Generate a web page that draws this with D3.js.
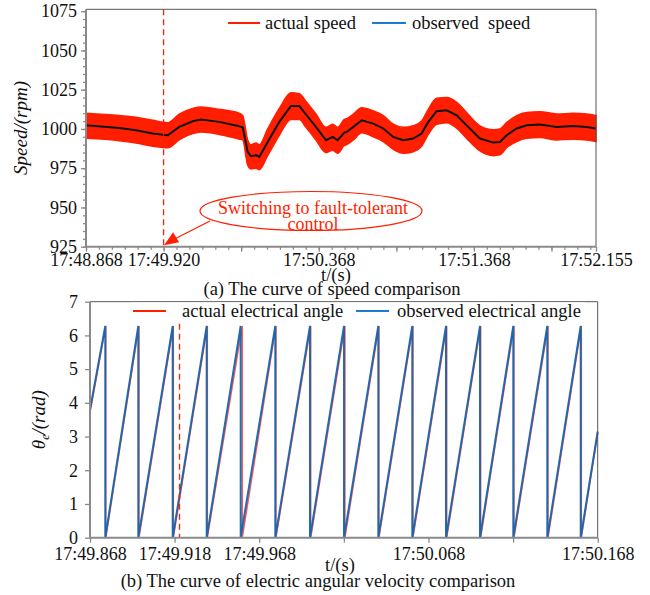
<!DOCTYPE html>
<html>
<head>
<meta charset="UTF-8">
<title>speed and angle comparison</title>
<script src="https://d3js.org/d3.v7.min.js"></script>
<style>
  body { margin: 0; background: #fff; }
  svg text { font-family: "Liberation Serif", "Times New Roman", serif; fill: #111; }
  .axis path { display: none; }
  .axis line { stroke: #8a8a8a; stroke-width: 1.3px; }
  .axis text { font-size: 18px; fill: #111; }
</style>
</head>
<body>
<script>
// ---- top chart data: speed (rpm) vs time offset (s) from 17:48.868
var speedTime = [0, 0.215, 0.322, 0.430, 0.527, 0.601, 0.688, 0.741, 0.859, 0.988, 1.010, 1.042, 1.063, 1.096, 1.117,
  1.171, 1.246, 1.321, 1.375, 1.418, 1.482, 1.547, 1.590, 1.622, 1.665, 1.680, 1.723, 1.777, 1.852, 1.916, 1.980,
  2.045, 2.109, 2.163, 2.206, 2.260, 2.325, 2.389, 2.453, 2.539, 2.625, 2.668, 2.711, 2.776, 2.840, 2.926, 3.033,
  3.140, 3.227, 3.287];
var observedSpeed = [1002.4, 1000.6, 999.2, 997.1, 996.0, 1001.3, 1004.9, 1006.0, 1004.5, 1001.7, 1001.0, 985.4, 982.6, 983.3, 982.2,
  991.7, 1004.5, 1014.6, 1014.6, 1009.2, 1001.3, 992.8, 994.9, 992.8, 997.7, 998.1, 1001.3, 1005.5, 1003.4, 1000.3, 994.9,
  992.8, 993.9, 997.1, 1004.5, 1011.3, 1011.9, 1008.7, 1002.3, 993.9, 991.3, 991.7, 996.0, 1000.3, 1002.3, 1002.8, 1001.3,
  1001.9, 1001.3, 1000.3];
var actualHigh = [1010, 1008.5, 1007.5, 1005.5, 1004, 1009.5, 1013, 1014, 1012.5, 1010, 1008.5, 993, 990, 991, 990,
  1000, 1013, 1023, 1022.5, 1017.5, 1009.5, 1001, 1003, 1001, 1006, 1006.5, 1009.5, 1013.5, 1011.5, 1008.5, 1003,
  1001, 1002, 1005, 1012.5, 1019.5, 1020, 1017, 1010.5, 1002, 999.5, 1000, 1004, 1008.5, 1010.5, 1011, 1009.5,
  1010, 1009.5, 1008.5];
var actualLow = [994, 992.5, 991, 989, 988, 993, 997, 998, 996.5, 993.5, 993, 977, 974.5, 975, 974,
  983, 996, 1006, 1006, 1001, 993, 985, 986.5, 984.5, 989.5, 990, 993, 997.5, 995, 992, 987,
  984.5, 985.5, 989, 996.5, 1003, 1004, 1000.5, 994, 986, 983, 983.5, 988, 992, 994, 994.5, 993,
  993.5, 993, 992];
var speedTicks = [925, 950, 975, 1000, 1025, 1050, 1075];
var timeTicksA = [0, 0.5, 1.5, 2.5, 3.287];
var timeLabelsA = ["17:48.868", "17:49.920", "17:50.368", "17:51.368", "17:52.155"];
var switchTimeA = 0.5;

// ---- bottom chart data: electrical angle (rad) vs time offset (s) from 17:49.868
var observedWrapTimes = [0.00904, 0.02854, 0.04887, 0.06896, 0.08905, 0.10950, 0.13000, 0.15009,
  0.17036, 0.19045, 0.21037, 0.23046, 0.25013, 0.27022, 0.28996];
var actualWrapTimes = [0.00930, 0.02890, 0.04920, 0.06930, 0.08995, 0.10985, 0.13040, 0.15060,
  0.17070, 0.19080, 0.21075, 0.23080, 0.25050, 0.27060, 0.29030];
var angleStart = [3.80, 3.72];   // observed, actual at t = 0
var angleEnd = [3.15, 3.12];     // observed, actual at t = 0.3
var angleTicks = [0, 1, 2, 3, 4, 5, 6, 7];
var timeTicksB = [0, 0.05, 0.1, 0.15, 0.2, 0.25, 0.3];
var timeLabelsB = ["17:49.868", "17:49.918", "17:49.968", "", "17:50.068", "", "17:50.168"];
var switchTimeB = 0.0529;

var W = 650, H = 595;
var RED = "#ff1e00", BLUE = "#1765ad";

var svg = d3.select("body").append("svg").attr("width", W).attr("height", H);

// ================= chart (a) =================
var a = { l: 86, r: 596, t: 9.3, b: 246.7 };
var xa = d3.scaleLinear().domain([0, 3.287]).range([a.l, a.r]);
var ya = d3.scaleLinear().domain([925, 1076.2]).range([a.b, a.t]);

var gA = svg.append("g");

var speedRows = speedTime.map(function(t, i) {
  return { t: t, obs: observedSpeed[i], hi: actualHigh[i], lo: actualLow[i] };
});

gA.append("path")
  .datum(speedRows)
  .attr("fill", RED)
  .attr("stroke", RED)
  .attr("stroke-width", 1.5)
  .attr("d", d3.area().curve(d3.curveMonotoneX)
    .x(d => xa(d.t)).y0(d => ya(d.lo)).y1(d => ya(d.hi)));

gA.append("path")
  .datum(speedRows)
  .attr("fill", "none")
  .attr("stroke", "#111")
  .attr("stroke-width", 2)
  .attr("d", d3.line().x(d => xa(d.t)).y(d => ya(d.obs)));

// dashed switching line
gA.append("line")
  .attr("x1", xa(switchTimeA)).attr("x2", xa(switchTimeA))
  .attr("y1", a.t).attr("y2", a.b)
  .attr("stroke", RED).attr("stroke-width", 1.3).attr("stroke-dasharray", "6,4");

// frame
gA.append("path")
  .attr("d", "M" + a.l + "," + a.t + "H" + a.r + "V" + a.b)
  .attr("fill", "none").attr("stroke", "#555").attr("stroke-width", 1);

// axes: minor then major
var minorY = d3.range(925, 1076, 5);
gA.append("g").attr("class", "axis").attr("transform", "translate(" + a.l + ",0)")
  .call(d3.axisLeft(ya).tickValues(minorY).tickSize(3).tickFormat(""));
gA.append("g").attr("class", "axis").attr("transform", "translate(" + a.l + ",0)")
  .call(d3.axisLeft(ya).tickValues(speedTicks).tickSize(5).tickPadding(4).tickFormat(d3.format("d")));

var minorX = d3.range(0, 3.287, 0.5 / 6);
gA.append("g").attr("class", "axis").attr("transform", "translate(0," + a.b + ")")
  .call(d3.axisBottom(xa).tickValues(minorX).tickSize(3).tickFormat(""));
gA.append("g").attr("class", "axis").attr("transform", "translate(0," + a.b + ")")
  .call(d3.axisBottom(xa).tickValues(d3.range(0, 3.2, 0.5).concat([3.287])).tickSize(5).tickFormat(""));
gA.append("g").attr("class", "axis").attr("transform", "translate(0," + a.b + ")")
  .call(d3.axisBottom(xa).tickValues(timeTicksA).tickSize(0).tickPadding(7)
    .tickFormat((d, i) => timeLabelsA[i]));

gA.append("line").attr("x1", a.l).attr("x2", a.l).attr("y1", a.t).attr("y2", a.b)
  .attr("stroke", "#8a8a8a").attr("stroke-width", 2);
gA.append("line").attr("x1", a.l).attr("x2", a.r).attr("y1", a.b).attr("y2", a.b)
  .attr("stroke", "#8a8a8a").attr("stroke-width", 2);

// legend (a)
var legA = gA.append("g");
legA.append("line").attr("x1", 228).attr("x2", 260).attr("y1", 23).attr("y2", 23)
  .attr("stroke", RED).attr("stroke-width", 2);
legA.append("text").attr("x", 265).attr("y", 29).attr("font-size", 18.5).text("actual speed");
legA.append("line").attr("x1", 372).attr("x2", 406).attr("y1", 23).attr("y2", 23)
  .attr("stroke", "#1a7bd0").attr("stroke-width", 2);
legA.append("text").attr("x", 412).attr("y", 29).attr("font-size", 18.5)
  .style("white-space", "pre").text("observed  speed");

// annotation
gA.append("ellipse").attr("cx", 311).attr("cy", 211).attr("rx", 111).attr("ry", 19.5)
  .attr("fill", "#fff").attr("stroke", RED).attr("stroke-width", 1.2);
gA.append("text").attr("x", 313).attr("y", 214).attr("text-anchor", "middle")
  .attr("font-size", 18).style("fill", RED).text("Switching to fault-tolerant");
gA.append("text").attr("x", 313).attr("y", 230).attr("text-anchor", "middle")
  .attr("font-size", 18).style("fill", RED).text("control");
var tip = [xa(switchTimeA) + 0.5, a.b - 1.5];
gA.append("line").attr("x1", 210).attr("y1", 221).attr("x2", tip[0] + 10).attr("y2", tip[1] - 6)
  .attr("stroke", RED).attr("stroke-width", 1.2);
gA.append("path")
  .attr("d", "M" + tip[0] + "," + tip[1] + "L" + (tip[0] + 9) + "," + (tip[1] - 13) +
    "L" + (tip[0] + 15) + "," + (tip[1] - 3) + "Z")
  .attr("fill", RED);

// labels (a)
svg.append("text").attr("transform", "translate(27," + ((a.t + a.b) / 2) + ") rotate(-90)")
  .attr("text-anchor", "middle").attr("font-size", 19).attr("font-style", "italic")
  .text("Speed/(rpm)");
svg.append("text").attr("x", 336).attr("y", 281).attr("text-anchor", "middle")
  .attr("font-size", 18.5).text("t/(s)");
svg.append("text").attr("x", 332).attr("y", 295).attr("text-anchor", "middle")
  .attr("font-size", 18.5).text("(a) The curve of speed comparison");

// ================= chart (b) =================
var b = { l: 90, r: 597.7, t: 301.7, b: 537.7 };
var xb = d3.scaleLinear().domain([0, 0.3]).range([b.l, b.r]);
var yb = d3.scaleLinear().domain([0, 7]).range([b.b, b.t]);
var TWO_PI = 6.28;

function sawPoints(wraps, start, end) {
  var pts = [[0, start]];
  wraps.forEach(function(t) { pts.push([t, TWO_PI]); pts.push([t, 0]); });
  pts.push([0.3, end]);
  return pts;
}

var gB = svg.append("g");
var lineB = d3.line().x(d => xb(d[0])).y(d => yb(d[1]));

gB.append("path").datum(sawPoints(actualWrapTimes, angleStart[1], angleEnd[1]))
  .attr("fill", "none").attr("stroke", "#ff5a5a").attr("stroke-width", 1.6).attr("d", lineB);
gB.append("path").datum(sawPoints(observedWrapTimes, angleStart[0], angleEnd[0]))
  .attr("fill", "none").attr("stroke", BLUE).attr("stroke-width", 2).attr("stroke-opacity", 0.95)
  .attr("d", lineB);

gB.append("line")
  .attr("x1", xb(switchTimeB)).attr("x2", xb(switchTimeB))
  .attr("y1", b.t + 2).attr("y2", b.b)
  .attr("stroke", RED).attr("stroke-width", 1.3).attr("stroke-dasharray", "6,4");

gB.append("path")
  .attr("d", "M" + b.l + "," + b.t + "H" + b.r + "V" + b.b)
  .attr("fill", "none").attr("stroke", "#555").attr("stroke-width", 1);

gB.append("g").attr("class", "axis").attr("transform", "translate(" + b.l + ",0)")
  .call(d3.axisLeft(yb).tickValues(angleTicks).tickSize(5).tickPadding(7).tickFormat(d3.format("d")));
gB.append("g").attr("class", "axis").attr("transform", "translate(0," + b.b + ")")
  .call(d3.axisBottom(xb).tickValues(timeTicksB).tickSize(5).tickPadding(5)
    .tickFormat((d, i) => timeLabelsB[i]));

gB.append("line").attr("x1", b.l).attr("x2", b.l).attr("y1", b.t).attr("y2", b.b)
  .attr("stroke", "#8a8a8a").attr("stroke-width", 2);
gB.append("line").attr("x1", b.l).attr("x2", b.r).attr("y1", b.b).attr("y2", b.b)
  .attr("stroke", "#8a8a8a").attr("stroke-width", 2);

// legend (b)
var legB = gB.append("g");
legB.append("rect").attr("x", 130).attr("y", 302.5).attr("width", 455).attr("height", 18).attr("fill", "#fff");
legB.append("line").attr("x1", 133).attr("x2", 166).attr("y1", 311).attr("y2", 311)
  .attr("stroke", RED).attr("stroke-width", 2);
legB.append("text").attr("x", 182).attr("y", 317).attr("font-size", 18.5).text("actual electrical angle");
legB.append("line").attr("x1", 356).attr("x2", 389).attr("y1", 311).attr("y2", 311)
  .attr("stroke", "#1a7bd0").attr("stroke-width", 2);
legB.append("text").attr("x", 397).attr("y", 317).attr("font-size", 18.5).text("observed electrical angle");

// labels (b)
var yl = svg.append("text").attr("transform", "translate(45," + ((b.t + b.b) / 2) + ") rotate(-90)")
  .attr("text-anchor", "middle").attr("font-size", 19).attr("font-style", "italic");
yl.append("tspan").text("θ");
yl.append("tspan").attr("font-size", 12).attr("dy", 4).text("e");
yl.append("tspan").attr("dy", -4).text("/(rad)");
svg.append("text").attr("x", 340).attr("y", 571).attr("text-anchor", "middle")
  .attr("font-size", 18.5).text("t/(s)");
svg.append("text").attr("x", 318).attr("y", 587).attr("text-anchor", "middle")
  .attr("font-size", 18.5).text("(b) The curve of electric angular velocity comparison");
</script>
</body>
</html>
